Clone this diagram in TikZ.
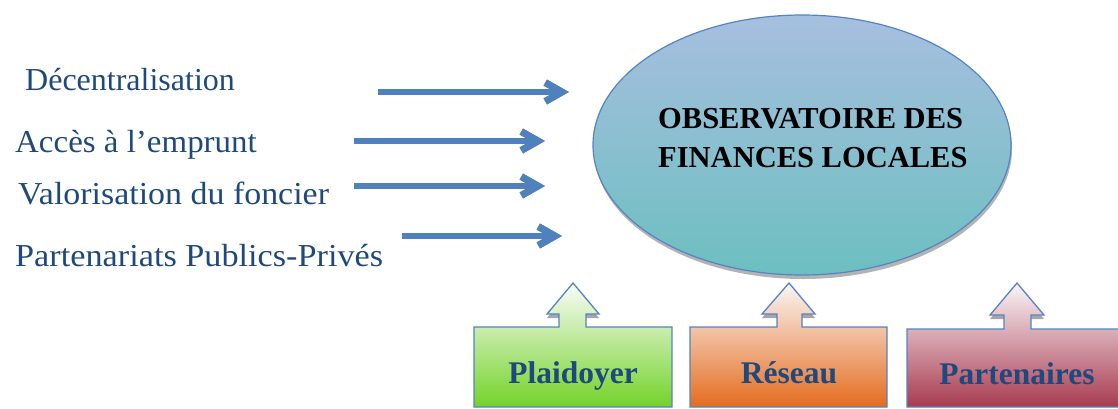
\documentclass[tikz,border=0pt]{standalone}
\usepackage{fontspec}
\setmainfont{Liberation Serif}
\usetikzlibrary{calc}
\definecolor{txtblue}{RGB}{31,73,125}
\definecolor{arrblue}{RGB}{79,129,189}
\definecolor{shadowgray}{RGB}{166,166,166}
\definecolor{edgeblue}{RGB}{84,132,195}
\tikzset{
  lefttext/.style={anchor=base west,inner sep=0pt,text=txtblue,font=\fontsize{32}{36}\selectfont},
  boxtext/.style={anchor=base,inner sep=0pt,text=txtblue,font=\fontsize{31.5}{36}\selectfont\bfseries},
  callout/.style={draw=edgeblue,line width=1.3pt,line join=miter},
}
% thick arrow: shaft from #1 to the chevron whose tip is #2, filled with #3
\newcommand\fatarrow[3]{%
  \fill[#3] ($(#1)+(0,-2.6)$) rectangle ($(#2)+(-13,2.6)$);
  \fill[#3] (#2) -- ++(-22,-12.5) -- ++(-3.5,6.1) -- ++(11.5,6.4) -- ++(-11.5,6.4) -- ++(3.5,6.1) -- cycle;
}
\begin{document}
\begin{tikzpicture}[x=1pt,y=-1pt]
\useasboundingbox (0,0) rectangle (1118,408);

% central ellipse with drop shadow
\fill[shadowgray!85] (803,149) ellipse [x radius=209,y radius=130];
\shade[top color={rgb,255:red,167;green,191;blue,223},bottom color={rgb,255:red,108;green,191;blue,192}]
  (802,145) ellipse [x radius=209,y radius=130];
\draw[edgeblue,line width=1.2pt] (802,145) ellipse [x radius=209,y radius=130];
\node (ofl) [anchor=base west,inner sep=0pt,align=left,font=\fontsize{30.5}{39}\selectfont\bfseries] at (658,167)
  {OBSERVATOIRE DES\\FINANCES LOCALES};

% left labels
\node (t1) [lefttext] at (25,90) {Décentralisation};
\node (t2) [lefttext] at (15,152) {\scalebox{1.03}[1]{Accès à l’emprunt}};
\node (t3) [lefttext] at (18,204) {\scalebox{1.06}[1]{Valorisation du foncier}};
\node (t4) [lefttext] at (15,266) {\scalebox{1.07}[1]{Partenariats Publics-Privés}};

% arrow end points (start of shaft, tip of head)
\coordinate (a1s) at (378,92);  \coordinate (a1e) at (569,92);
\coordinate (a2s) at (354,141); \coordinate (a2e) at (545,141);
\coordinate (a3s) at (354,186); \coordinate (a3e) at (545,186);
\coordinate (a4s) at (402,236); \coordinate (a4e) at (562,236);

% shadows of the arrows, then the arrows
\foreach \s/\e in {a1s/a1e,a2s/a2e,a3s/a3e,a4s/a4e}{
  \begin{scope}[shift={(2,3)}]
    \fatarrow{\s}{\e}{shadowgray}
  \end{scope}
}
\foreach \s/\e in {a1s/a1e,a2s/a2e,a3s/a3e,a4s/a4e}{
  \fatarrow{\s}{\e}{arrblue}
}

% up-arrow callouts: shadows
\fill[shadowgray] (559,331)--(559,318)--(547,318)--(573,287)--(599,318)--(586,318)--(586,331)--cycle;
\fill[shadowgray] (777,331)--(777,318)--(762,318)--(789,287)--(815,318)--(802,318)--(802,331)--cycle;
\fill[shadowgray] (1004,333)--(1004,319)--(990,319)--(1017,287)--(1044,319)--(1031,319)--(1031,333)--cycle;

% Plaidoyer
\shade[top color={rgb,255:red,250;green,252;blue,248},middle color={rgb,255:red,208;green,237;blue,185},bottom color={rgb,255:red,115;green,210;blue,40}]
  (474,327)--(559,327)--(559,314)--(547,314)--(573,283)--(599,314)--(586,314)--(586,327)--(672,327)--(672,407)--(474,407)--cycle;
\draw[callout]
  (474,327)--(559,327)--(559,314)--(547,314)--(573,283)--(599,314)--(586,314)--(586,327)--(672,327)--(672,407)--(474,407)--cycle;
\node (plaid) [boxtext] at (573,383) {Plaidoyer};

% Réseau
\shade[top color={rgb,255:red,250;green,246;blue,245},middle color={rgb,255:red,242;green,195;blue,176},bottom color={rgb,255:red,228;green,108;blue,30}]
  (690,327)--(777,327)--(777,314)--(762,314)--(789,283)--(815,314)--(802,314)--(802,327)--(887,327)--(887,407)--(690,407)--cycle;
\draw[callout]
  (690,327)--(777,327)--(777,314)--(762,314)--(789,283)--(815,314)--(802,314)--(802,327)--(887,327)--(887,407)--(690,407)--cycle;
\node (res) [boxtext] at (789,383) {Réseau};

% Partenaires
\shade[top color={rgb,255:red,249;green,246;blue,247},middle color={rgb,255:red,218;green,184;blue,192},bottom color={rgb,255:red,168;green,58;blue,80}]
  (907,329)--(1004,329)--(1004,315)--(990,315)--(1017,283)--(1044,315)--(1031,315)--(1031,329)--(1125,329)--(1125,407)--(907,407)--cycle;
\draw[callout]
  (907,329)--(1004,329)--(1004,315)--(990,315)--(1017,283)--(1044,315)--(1031,315)--(1031,329)--(1125,329)--(1125,407)--(907,407)--cycle;
\node (part) [boxtext] at (1017,384) {Partenaires};
\end{tikzpicture}
\end{document}
